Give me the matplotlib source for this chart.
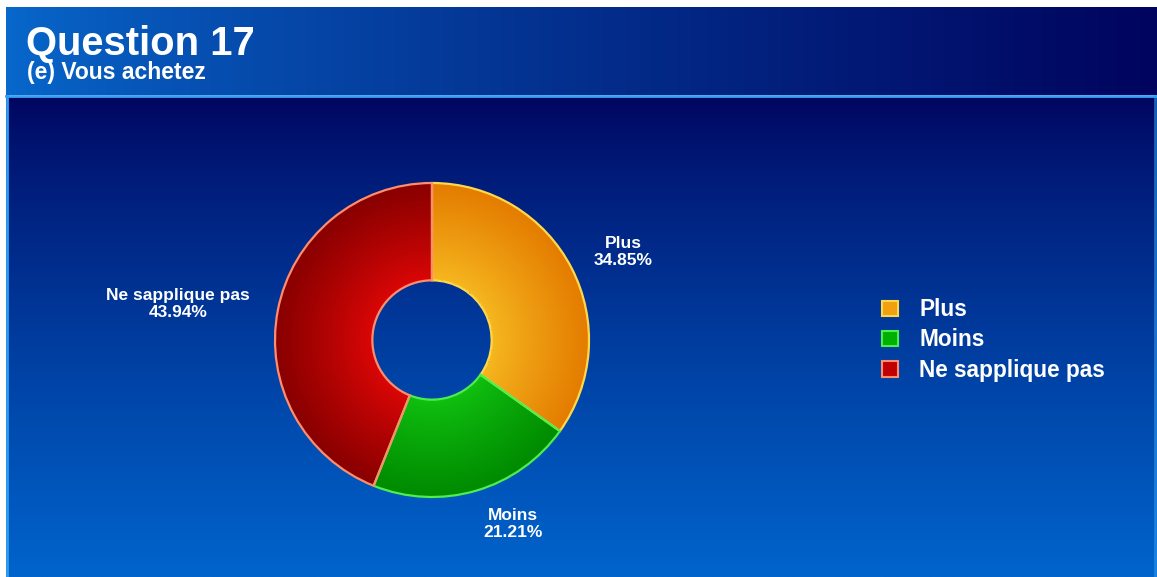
import numpy as np
import matplotlib.pyplot as plt
from matplotlib.colors import to_rgb
from matplotlib.patches import Patch

plt.rcParams['font.family'] = ['Liberation Sans', 'DejaVu Sans']

title = "Question 17"
subtitle = "(e) Vous achetez"
categories = ["Plus", "Moins", "Ne sapplique pas"]
shares = [34.85, 21.21, 43.94]

# inner / outer shade and outline for each slice
inner_cols = ["#f6b820", "#10c010", "#dc0606"]
outer_cols = ["#e47c00", "#008a00", "#880000"]
edge_cols = ["#ffd84a", "#4cf04c", "#ff8c6c"]

W, H = 1157, 577
fig = plt.figure(figsize=(W / 100, H / 100), dpi=100)
fig.patch.set_facecolor("white")

# background in pixel coordinates
bg = fig.add_axes([0, 0, 1, 1])
bg.set_xlim(0, W)
bg.set_ylim(H, 0)
bg.axis("off")


def lerp(c0, c1, t):
    c0, c1 = np.array(to_rgb(c0)), np.array(to_rgb(c1))
    t = np.clip(t, 0, 1)[..., None]
    return c0 * (1 - t) + c1 * t


# header band: bright blue on the left fading to navy
hx = np.linspace(0, 1, 400)[None, :]
bg.imshow(lerp("#0868cc", "#00045e", hx ** 0.8), extent=[6, W, 95, 7],
          aspect="auto", interpolation="bilinear")
# body: navy at top to bright blue at bottom
by = np.linspace(0, 1, 300)[:, None] * np.ones((1, 2))
bg.imshow(lerp("#00045e", "#0064cc", by ** 0.8), extent=[6, W, H, 96],
          aspect="auto", interpolation="bilinear")
bg.plot([6, W], [96, 96], color="#3aa0f4", lw=2)
bg.plot([7, 7], [96, H], color="#2e9cf0", lw=2)
bg.plot([W - 2, W - 2], [96, H], color="#2e9cf0", lw=2, alpha=0.6)
bg.set_xlim(0, W)
bg.set_ylim(H, 0)

bg.text(26, 55, title, color="white", fontsize=28.8, fontweight="bold",
        va="baseline")
bg.text(27, 79, subtitle, color="white", fontsize=16.5, fontweight="bold",
        va="baseline")

# donut
cx, cy, R = 432, 340, 157
half = 170
ax = fig.add_axes([(cx - half) / W, (H - cy - half) / H, 2 * half / W, 2 * half / H])
ax.axis("off")
hole = 0.38
wedges, _ = ax.pie(shares, startangle=90, counterclock=False,
                   colors=inner_cols, radius=1.0,
                   wedgeprops=dict(width=1 - hole, linewidth=1.6))

g = np.linspace(-1, 1, 500)
gx, gy = np.meshgrid(g, g)
rr = np.hypot(gx, gy)
t = (rr - hole) / (1 - hole)
for w, c0, c1, ec in zip(wedges, inner_cols, outer_cols, edge_cols):
    img = lerp(c0, c1, t ** 0.9)
    im = ax.imshow(img, extent=[-1, 1, -1, 1], origin="lower",
                   interpolation="bilinear", zorder=2)
    im.set_clip_path(w)
    w.set_facecolor("none")
    w.set_edgecolor(ec)
    w.set_zorder(3)

lim = half / R
ax.set_xlim(-lim, lim)
ax.set_ylim(-lim, lim)
ax.set_aspect("equal")

# slice labels, set just outside the ring at each slice's middle angle
for w, name, val in zip(wedges, categories, shares):
    mid = np.deg2rad((w.theta1 + w.theta2) / 2)
    x = (1.16 if np.cos(mid) > 0 else 1.18) * np.cos(mid)
    y = 1.22 * np.sin(mid)
    ax.text(x, y, f"{name}\n{val:.2f}%", color="white", fontsize=12.5,
            fontweight="bold", ha="left" if x > 0 else "right", va="center",
            multialignment="center", linespacing=1.2, clip_on=False)

# legend
handles = [Patch(facecolor=c, edgecolor=e, linewidth=1.5)
           for c, e in zip(["#f0a010", "#00b000", "#c00000"], edge_cols)]
fig.legend(handles, categories, loc="center left",
           bbox_to_anchor=(871 / W, 1 - 340 / H), frameon=False,
           prop=dict(size=16.3, weight="bold"), labelcolor="white",
           handlelength=0.68, handleheight=0.68, handletextpad=0.95,
           labelspacing=0.32, borderpad=0)

fig.savefig("out.png", dpi=100)
